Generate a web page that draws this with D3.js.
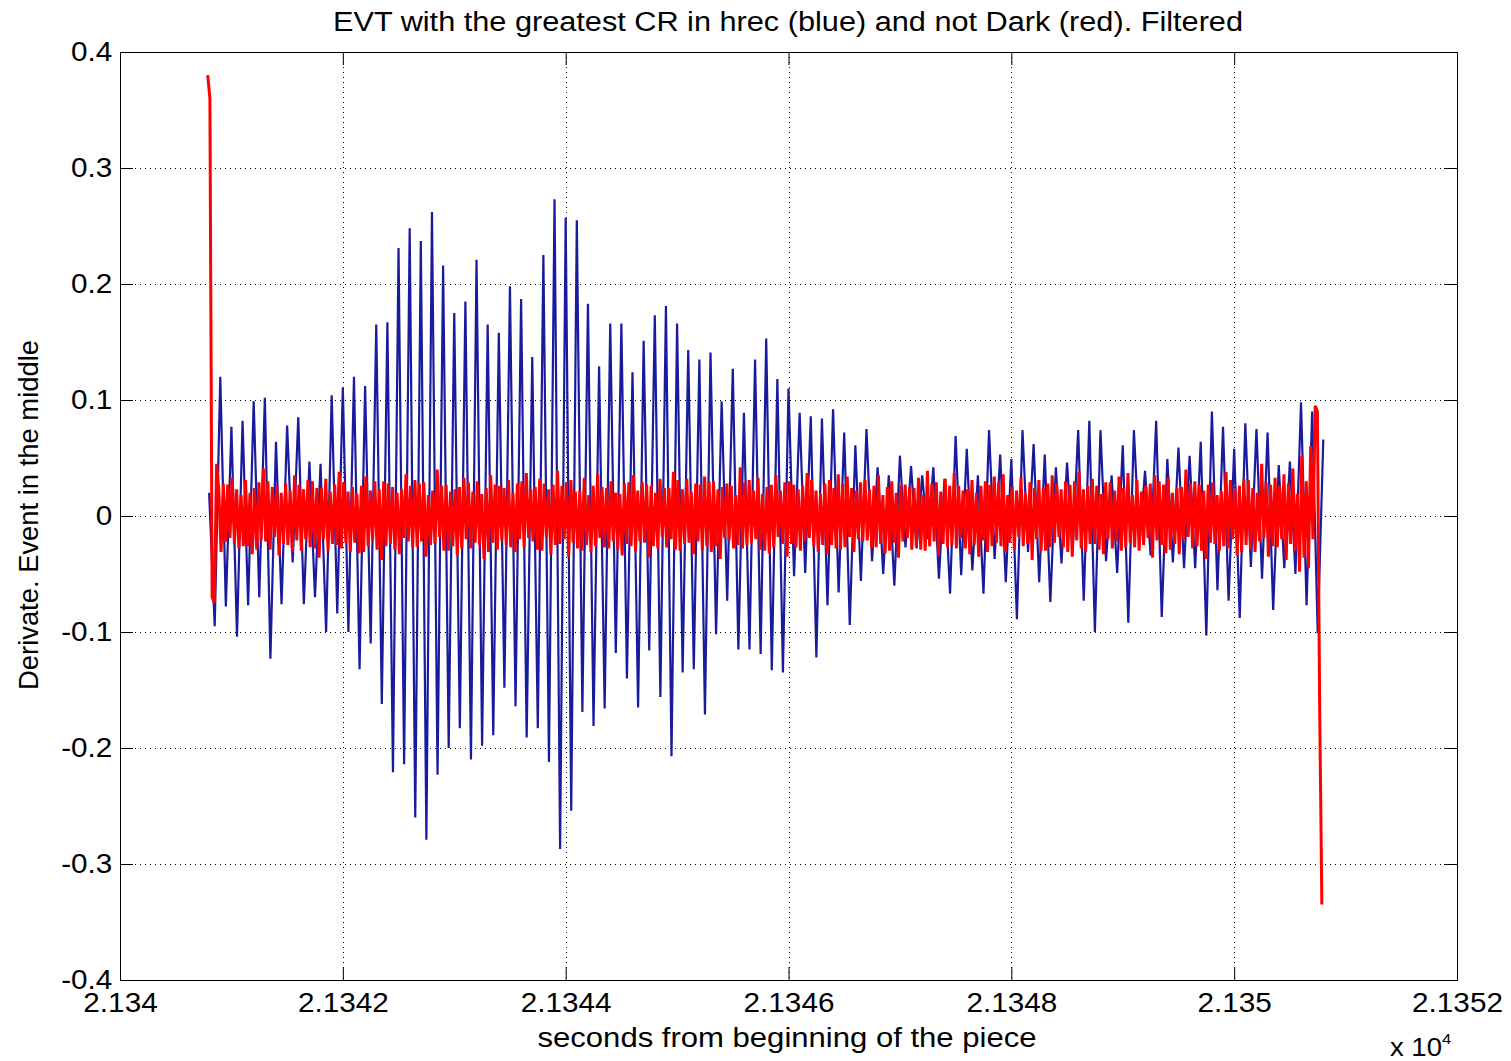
<!DOCTYPE html>
<html>
<head>
<meta charset="utf-8">
<script src="https://cdn.jsdelivr.net/npm/d3@7/dist/d3.min.js"></script>
<style>
  html, body { margin: 0; padding: 0; background: #fff; }
  svg { display: block; }
  text { font-family: "Liberation Sans", Arial, Helvetica, sans-serif; fill: #000; }
</style>
</head>
<body>
<svg id="chart" width="1511" height="1061"></svg>
<script>
// ---- data -------------------------------------------------------------
// Time axis: seconds from beginning of the piece (shown in units of 1e4)
const xDomain = [21340, 21352];
const xTickValues = [21340, 21342, 21344, 21346, 21348, 21350, 21352];
const yDomain = [-0.4, 0.4];
const yTickValues = [-0.4, -0.3, -0.2, -0.1, 0, 0.1, 0.2, 0.3, 0.4];

// hrec event (blue): first sample, then alternating trough / peak every blueDt s
const blueStartTime = 21340.80;
const blueDt = 0.05;
const blueFirst = 0.02;
const blueTroughs = [
  -0.095,-0.078,-0.104,-0.077,-0.070,-0.123,-0.076,-0.040,-0.076,-0.070,
  -0.100,-0.084,-0.100,-0.132,-0.110,-0.162,-0.221,-0.214,-0.260,-0.279,
  -0.223,-0.200,-0.183,-0.210,-0.198,-0.189,-0.148,-0.164,-0.191,-0.183,
  -0.212,-0.287,-0.254,-0.169,-0.181,-0.166,-0.118,-0.140,-0.165,-0.116,
  -0.156,-0.207,-0.135,-0.132,-0.171,-0.102,-0.073,-0.115,-0.115,-0.119,
  -0.133,-0.135,-0.052,-0.049,-0.122,-0.077,-0.066,-0.094,-0.056,-0.039,
  -0.050,-0.060,-0.027,-0.028,-0.020,-0.054,-0.067,-0.051,-0.047,-0.067,
  -0.037,-0.057,-0.089,-0.031,-0.057,-0.074,-0.041,-0.031,-0.073,-0.100,
  -0.039,-0.049,-0.092,-0.024,-0.034,-0.087,-0.040,-0.045,-0.045,-0.103,
  -0.064,-0.073,-0.088,-0.044,-0.054,-0.081,-0.045,-0.050,-0.077,-0.101
];
const bluePeaks = [
  0.120,0.077,0.082,0.099,0.102,0.064,0.078,0.085,0.047,0.045,
  0.104,0.111,0.120,0.112,0.165,0.167,0.231,0.248,0.237,0.262,
  0.216,0.175,0.185,0.221,0.165,0.158,0.198,0.187,0.137,0.225,
  0.273,0.257,0.255,0.183,0.129,0.166,0.166,0.124,0.151,0.173,
  0.181,0.166,0.143,0.135,0.141,0.099,0.127,0.089,0.135,0.153,
  0.118,0.110,0.089,0.086,0.084,0.092,0.072,0.061,0.075,0.042,
  0.035,0.052,0.043,0.035,0.042,0.032,0.069,0.058,0.035,0.074,
  0.053,0.049,0.074,0.062,0.053,0.042,0.046,0.074,0.082,0.074,
  0.035,0.061,0.074,0.039,0.082,0.049,0.059,0.052,0.064,0.090,
  0.077,0.058,0.080,0.075,0.072,0.044,0.047,0.098,0.090,0.066
];

// not-Dark event (red), sampled every redDt s, values in thousandths
const redStartTime = 21340.787;
const redDt = 0.02;
const redMilli = [
  380,360,-70,-75,45,
  22,-31,28,-22,27,-19,33,-24,23,-28,
  18,-26,31,-26,20,-33,24,-29,29,-21,
  41,-22,30,-29,25,-18,26,-34,20,-24,
  28,-25,22,-31,35,-21,27,-30,23,-20,
  31,-27,30,-28,24,-36,24,-20,32,-30,
  21,-24,27,-25,38,-28,29,-23,21,-31,
  25,-23,19,-32,26,-31,34,-26,22,-21,
  30,-29,23,-38,30,-26,28,-24,25,-29,
  20,-33,23,-19,36,-22,26,-27,31,-27,
  28,-22,29,-35,18,-25,22,-24,40,-18,
  26,-30,27,-30,21,-26,23,-34,25,-28,
  33,-20,29,-28,21,-23,30,-25,19,-37,
  24,-31,35,-23,27,-29,26,-21,24,-25,
  31,-27,20,-31,28,-20,30,-27,37,-19,
  23,-22,25,-29,32,-30,28,-18,23,-33,
  27,-25,39,-24,26,-20,29,-35,31,-23,
  21,-28,22,-30,33,-25,18,-31,26,-26,
  36,-19,25,-27,24,-28,30,-22,20,-29,
  19,-34,28,-24,29,-26,35,-31,22,-22,
  29,-23,27,-36,26,-26,20,-28,32,-18,
  24,-27,24,-20,38,-29,31,-30,23,-24,
  32,-23,21,-33,28,-22,27,-30,34,-26,
  30,-31,30,-26,23,-37,25,-19,28,-21,
  26,-28,18,-25,42,-28,29,-25,31,-23,
  22,-20,33,-29,19,-30,25,-32,27,-27,
  35,-18,22,-24,29,-35,30,-24,27,-27,
  23,-30,26,-22,37,-19,31,-26,22,-31,
  19,-25,28,-33,31,-25,24,-28,36,-29,
  28,-27,34,-18,24,-31,22,-20,29,-22,
  31,-21,23,-28,26,-27,35,-24,18,-32,
  25,-30,30,-23,20,-36,27,-22,27,-19,
  25,-29,24,-26,33,-29,18,-30,39,-26,
  28,-22,29,-34,21,-24,32,-27,26,-25,
  37,-28,26,-19,22,-28,23,-33,31,-25,
  20,-35,26,-21,30,-31,27,-26,34,-23,
  29,-26,36,-31,18,-23,25,-29,22,-18,
  33,-26,19,-24,29,-38,24,-20,31,-30,
  24,-30,28,-27,35,-23,28,-18,23,-27,
  30,-31,27,-35,30,-21,38,-28,23,-31,
  26,-24,32,-24,26,-29,19,-33,29,-20,
  29,-28,22,-22,34,-30,24,-27,37,-23,
  18,-27,31,-30,21,-25,26,-19,28,-36,
  35,-21,30,-25,27,-32,33,-29,20,-24,
  24,-33,25,-20,40,-18,28,-28,30,-26,
  27,-30,22,-37,27,-23,29,-24,18,-30,
  21,-26,38,-28,31,-20,23,-34,26,-31,
  32,-25,31,-29,24,-31,20,-22,45,-19,
  29,-35,27,-26,33,-27,26,-20,36,-38,
  28,-24,41,-30,19,-48,52,-36,30,-45,
  60,-20,95,90,-160,-335
];

// ---- build series ---------------------------------------------------------
const blueVals = [blueFirst];
blueTroughs.forEach((v, i) => { blueVals.push(v, bluePeaks[i]); });
const blueSeries = blueVals.map((v, i) => ({ t: blueStartTime + i * blueDt, v }));
const redSeries = redMilli.map((m, i) => ({ t: redStartTime + i * redDt, v: m / 1000 }));

// ---- layout -----------------------------------------------------------------
const svg = d3.select("#chart");
const plot = { left: 120, top: 52, right: 1457, bottom: 980 };
const tickLen = 13;
const fontSize = 27;
const stretch = "scale(1.1,1)";   // labels are drawn slightly wide

const x = d3.scaleLinear().domain(xDomain).range([plot.left, plot.right]);
const y = d3.scaleLinear().domain(yDomain).range([plot.bottom, plot.top]);

svg.append("rect").attr("width", 1511).attr("height", 1061).attr("fill", "#fff");

// dotted grid
const grid = svg.append("g").attr("stroke", "#000").attr("stroke-width", 1)
  .attr("stroke-dasharray", "1,4").attr("shape-rendering", "crispEdges");
grid.selectAll(".gx").data(xTickValues.slice(1, -1)).join("line")
  .attr("x1", d => Math.round(x(d)) + 0.5).attr("x2", d => Math.round(x(d)) + 0.5)
  .attr("y1", plot.top).attr("y2", plot.bottom);
grid.selectAll(".gy").data(yTickValues.slice(1, -1)).join("line")
  .attr("x1", plot.left).attr("x2", plot.right)
  .attr("y1", d => Math.round(y(d)) + 0.5).attr("y2", d => Math.round(y(d)) + 0.5);

// clip for the traces
svg.append("clipPath").attr("id", "plotClip").append("rect")
  .attr("x", plot.left).attr("y", plot.top)
  .attr("width", plot.right - plot.left).attr("height", plot.bottom - plot.top);

const line = d3.line().x(d => x(d.t)).y(d => y(d.v));
const traces = svg.append("g").attr("clip-path", "url(#plotClip)");
traces.append("path").datum(blueSeries)
  .attr("d", line).attr("fill", "none")
  .attr("stroke", "#1a1a9c").attr("stroke-width", 2.2).attr("stroke-linejoin", "bevel");
traces.append("path").datum(redSeries)
  .attr("d", line).attr("fill", "none")
  .attr("stroke", "#ff0000").attr("stroke-width", 3).attr("stroke-linejoin", "bevel");

// axes with inward ticks on all four sides
const xFmt = d => String(+(d / 1e4).toFixed(4));
const yFmt = d => (Math.abs(d) < 1e-9 ? "0" : d.toFixed(1));

function styleAxis(g) {
  g.select(".domain").remove();
  g.selectAll(".tick line").attr("stroke", "#000").attr("stroke-width", 1);
  g.selectAll(".tick text").attr("font-size", fontSize)
    .attr("font-family", "'Liberation Sans', Arial, sans-serif").attr("fill", "#000")
    .attr("transform", stretch);
}

svg.append("g").attr("transform", `translate(0,${plot.bottom})`)
  .call(d3.axisBottom(x).tickValues(xTickValues).tickFormat(xFmt)
    .tickSizeInner(-tickLen).tickSizeOuter(0).tickPadding(13))
  .call(styleAxis);
svg.append("g").attr("transform", `translate(0,${plot.top})`)
  .call(d3.axisTop(x).tickValues(xTickValues).tickFormat("")
    .tickSizeInner(-tickLen).tickSizeOuter(0))
  .call(styleAxis);
svg.append("g").attr("transform", `translate(${plot.left},0)`)
  .call(d3.axisLeft(y).tickValues(yTickValues).tickFormat(yFmt)
    .tickSizeInner(-tickLen).tickSizeOuter(0).tickPadding(7))
  .call(styleAxis);
svg.append("g").attr("transform", `translate(${plot.right},0)`)
  .call(d3.axisRight(y).tickValues(yTickValues).tickFormat("")
    .tickSizeInner(-tickLen).tickSizeOuter(0))
  .call(styleAxis);

// box
svg.append("rect")
  .attr("x", plot.left + 0.5).attr("y", plot.top + 0.5)
  .attr("width", plot.right - plot.left).attr("height", plot.bottom - plot.top)
  .attr("fill", "none").attr("stroke", "#000").attr("stroke-width", 1);

// title and axis labels
svg.append("text").attr("x", 788).attr("y", 31).attr("text-anchor", "middle")
  .attr("font-size", fontSize)
  .attr("textLength", 910).attr("lengthAdjust", "spacingAndGlyphs")
  .text("EVT with the greatest CR in hrec (blue) and not Dark (red). Filtered");
svg.append("text").attr("x", 787).attr("y", 1047).attr("text-anchor", "middle")
  .attr("font-size", fontSize)
  .attr("textLength", 499).attr("lengthAdjust", "spacingAndGlyphs")
  .text("seconds from beginning of the piece");
svg.append("text")
  .attr("transform", "translate(38,515) rotate(-90)")
  .attr("text-anchor", "middle").attr("font-size", fontSize)
  .attr("textLength", 350).attr("lengthAdjust", "spacingAndGlyphs")
  .text("Derivate. Event in the middle");
const expo = svg.append("text").attr("x", 1390).attr("y", 1056).attr("font-size", 25)
  .attr("transform", "translate(-139,0) scale(1.1,1)");
expo.append("tspan").text("x 10");
expo.append("tspan").attr("dy", -12).attr("font-size", 15).text("4");
</script>
</body>
</html>
